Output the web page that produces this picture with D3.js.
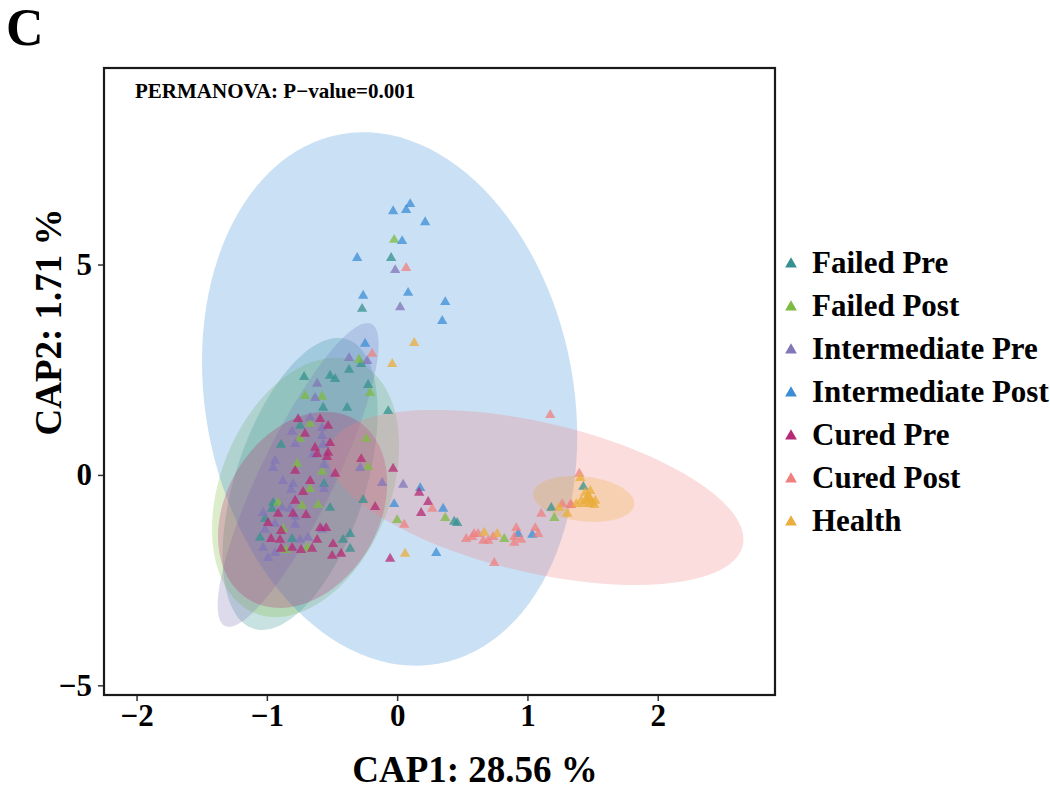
<!DOCTYPE html>
<html lang="en">
<head>
    <meta charset="UTF-8">
    <title>CAP ordination</title>
    <script src="https://cdnjs.cloudflare.com/ajax/libs/d3/7.8.5/d3.min.js"></script>
    <style>
        body {
            margin: 0;
            background-color: #ffffff;
        }
        svg text {
            font-family: "Liberation Serif", "Times New Roman", serif;
            font-weight: bold;
            fill: #000;
        }
    </style>
</head>
<body>
    <svg width="1050" height="789"></svg>
    <script>
// groups, colours and per-group samples (CAP1, CAP2)
const groups = ["Failed Pre", "Failed Post", "Intermediate Pre", "Intermediate Post", "Cured Pre", "Cured Post", "Health"];
const groupColors = ["#35918f", "#7dbb42", "#8176b8", "#3b8ed6", "#b52a74", "#ef8080", "#e9ae3b"];

const failedPre = [
    [-0.046, 5.18], [-0.269, 3.97], [-0.276, 2.66], [-0.369, 2.52], [-0.714, 2.35], [-0.515, 2.38],
    [-0.476, 2.30], [-0.223, 2.16], [-0.568, 1.62], [-0.384, 1.62], [-0.069, 1.54], [-0.361, -1.38],
    [-0.361, -1.73], [0.438, -1.09], [0.461, -1.12], [1.183, -0.76], [1.429, -0.26], [-0.960, -0.78],
    [-1.014, -1.02], [-1.052, -1.47], [-0.415, -1.52], [-0.806, -1.50], [-0.891, 0.74], [-0.745, 1.19],
    [-0.952, -0.64], [-0.561, -0.19], [-0.261, -0.57], [-0.515, -0.76]
];
const failedPost = [
    [-0.023, 5.61], [-0.292, 2.76], [-0.707, 1.90], [-0.207, 1.97], [0.000, -1.05], [0.369, -1.00],
    [0.822, -1.50], [1.206, -1.00], [-0.668, 1.24], [-0.745, 0.88], [-0.238, 0.88], [-0.223, 0.21],
    [-0.768, 0.29], [-0.576, 0.10], [-0.668, -0.31], [-0.914, -0.64], [-0.607, -0.69], [-0.730, -0.71],
    [-0.876, -1.26], [-0.691, -1.71], [-0.853, -1.76], [-0.576, 1.88]
];
const intermediatePre = [
    [-0.015, 4.89], [0.023, 4.01], [-0.369, 2.80], [-0.230, 2.73], [-0.614, 2.19], [-0.630, 1.85],
    [-0.668, 1.38], [-0.576, 1.14], [-0.806, 1.05], [-0.576, 0.95], [-0.783, 0.76], [-0.568, 0.74],
    [-0.645, 0.50], [-0.284, 0.19], [-0.561, 0.26], [-0.937, 0.36], [-0.876, -0.12], [-0.561, -0.31],
    [-0.814, -0.33], [-0.799, -0.19], [-0.115, -0.17], [0.046, -0.21], [-1.029, -0.88], [-0.883, -0.76],
    [-0.822, -0.78], [-0.937, -1.14], [-1.014, -1.28], [-0.684, -1.47], [-0.745, -1.52], [-0.937, -1.83],
    [-1.029, -1.71], [-0.783, -1.16], [-0.991, -1.95], [-0.783, -0.97], [-0.576, -1.28], [-0.952, 0.19]
];
const intermediatePost = [
    [-0.031, 6.29], [0.069, 6.32], [0.100, 6.46], [0.215, 6.03], [0.038, 5.58], [-0.307, 5.18],
    [-0.261, 4.28], [0.084, 4.35], [0.369, 4.13], [0.346, 3.68], [-0.246, 3.14], [0.177, -0.29],
    [0.353, -0.78], [-0.023, -0.67], [0.300, -1.83], [0.929, -1.38], [1.037, -1.40]
];
const curedPre = [
    [-0.760, 1.35], [-0.591, 1.35], [-0.530, 1.19], [-0.707, 1.00], [-0.515, 0.78], [-0.630, 0.67],
    [-0.530, 0.55], [-0.614, 0.52], [-0.538, 0.45], [-0.276, 0.40], [-0.031, 0.17], [-0.783, 0.12],
    [-0.476, 0.05], [-0.668, -0.12], [-0.722, -0.38], [-0.783, -0.59], [-0.169, -0.74], [-0.699, -0.93],
    [-0.799, -0.90], [-0.914, -0.90], [-0.991, -1.12], [-0.891, -1.31], [-0.591, -1.24], [-0.545, -1.24],
    [-0.614, -1.52], [-0.899, -1.52], [-0.968, -1.50], [-0.492, -1.62], [-0.891, -1.73], [-0.806, -1.71],
    [-0.737, -1.76], [-0.653, -1.73], [-0.499, -1.90], [-0.430, -1.85], [-0.054, -1.97], [0.169, -0.40],
    [0.238, -0.62], [0.184, -0.88]
];
const curedPost = [
    [0.069, 4.94], [-0.192, 2.90], [1.175, 1.45], [0.054, -1.16], [0.269, -0.78], [0.591, -1.38],
    [0.576, -1.45], [0.661, -1.54], [0.699, -1.54], [0.737, -1.45], [0.914, -1.24], [0.899, -1.45],
    [0.899, -1.59], [0.952, -1.52], [1.060, -1.24], [1.083, -1.38], [0.745, -2.07], [1.106, -0.90],
    [1.267, -0.67], [1.329, -0.69], [1.398, 0.05], [1.336, -0.69], [0.530, -1.50], [0.622, -1.38]
];
const health = [
    [0.131, 3.16], [-0.038, 2.66], [0.061, -1.85], [0.668, -1.35], [0.768, -1.38], [1.244, -0.76],
    [1.306, -0.90], [1.375, -0.67], [1.406, -0.05], [1.444, -0.40], [1.467, -0.48], [1.482, -0.55],
    [1.452, -0.59], [1.498, -0.64], [1.429, -0.67], [1.475, -0.67], [1.513, -0.69], [1.459, -0.52],
    [1.482, -0.36], [1.413, -0.59], [1.521, -0.59]
];
const groupPoints = [failedPre, failedPost, intermediatePre, intermediatePost, curedPre, curedPost, health];

// confidence ellipses per group: centre, half ranges and correlation
const ellCx  = [-0.745, -0.703, -0.760, -0.058, -0.726, 1.064, 1.432];
const ellCy  = [-0.214, -0.297, 0.000, 1.805, -0.830, -0.534, -0.570];
const ellSx  = [0.595, 0.718, 0.618, 1.440, 0.649, 1.594, 0.388];
const ellSy  = [3.47, 3.08, 3.61, 6.34, 2.33, 2.08, 0.546];
const ellRho = [0.49, 0.32, 0.86, -0.14, 0.27, -0.48, -0.2];

const xTicks = [-2, -1, 0, 1, 2];
const yTicks = [-5, 0, 5];

const svg = d3.select("svg");
const margin = {left: 104, right: 775, top: 68, bottom: 695};

const x = d3.scaleLinear().domain([-2.25, 2.90]).range([margin.left, margin.right]);
const y = d3.scaleLinear().domain([-5.23, 9.67]).range([margin.bottom, margin.top]);

svg.append("defs").append("clipPath").attr("id", "panel")
    .append("rect").attr("x", margin.left).attr("y", margin.top)
    .attr("width", margin.right - margin.left).attr("height", margin.bottom - margin.top);

const plot = svg.append("g").attr("clip-path", "url(#panel)");

// ellipses
const line = d3.line().x(d => x(d[0])).y(d => y(d[1])).curve(d3.curveLinearClosed);
groups.forEach((g, i) => {
    const pts = d3.range(120).map(k => {
        const t = k / 120 * 2 * Math.PI;
        const r = ellRho[i];
        return [ellCx[i] + ellSx[i] * Math.cos(t),
                ellCy[i] + ellSy[i] * (r * Math.cos(t) + Math.sqrt(1 - r * r) * Math.sin(t))];
    });
    plot.append("path")
        .attr("d", line(pts))
        .attr("fill", groupColors[i])
        .attr("fill-opacity", 0.27)
        .attr("stroke", "none");
});

// points
const tri = d3.symbol().type(d3.symbolTriangle).size(46);
groups.forEach((g, i) => {
    plot.selectAll(null)
        .data(groupPoints[i])
        .enter().append("path")
        .attr("d", tri)
        .attr("transform", d => `translate(${x(d[0])},${y(d[1]) + 1})`)
        .attr("fill", groupColors[i])
        .attr("fill-opacity", 0.75);
});

// panel border
svg.append("rect")
    .attr("x", margin.left).attr("y", margin.top)
    .attr("width", margin.right - margin.left).attr("height", margin.bottom - margin.top)
    .attr("fill", "none").attr("stroke", "#1a1a1a").attr("stroke-width", 2.2);

// axes
const xAxis = svg.append("g").attr("transform", `translate(0,${margin.bottom + 1})`)
    .call(d3.axisBottom(x).tickValues(xTicks).tickFormat(d3.format("d")).tickSize(5).tickPadding(3));
const yAxis = svg.append("g").attr("transform", `translate(${margin.left - 1},0)`)
    .call(d3.axisLeft(y).tickValues(yTicks).tickFormat(d3.format("d")).tickSize(5).tickPadding(6));
[xAxis, yAxis].forEach(a => {
    a.select(".domain").remove();
    a.selectAll(".tick line").attr("stroke", "#333").attr("stroke-width", 1.5);
    a.selectAll(".tick text")
        .attr("fill", "#000")
        .style("font-family", '"Liberation Serif", serif')
        .style("font-weight", "bold")
        .style("font-size", "31px");
});

// titles
svg.append("text").attr("x", 6).attr("y", 45)
    .style("font-size", "52px").text("C");

svg.append("text").attr("x", 135).attr("y", 98)
    .style("font-size", "21px").text("PERMANOVA: P\u2212value=0.001");

svg.append("text").attr("x", 475).attr("y", 782)
    .attr("text-anchor", "middle")
    .style("font-size", "37px").text("CAP1: 28.56 %");

svg.append("text")
    .attr("transform", "translate(61,322) rotate(-90)")
    .attr("text-anchor", "middle")
    .style("font-size", "37px").text("CAP2: 1.71 %");

// legend
const legend = svg.append("g");
groups.forEach((g, i) => {
    const yy = 263 + i * 43;
    legend.append("path")
        .attr("d", d3.symbol().type(d3.symbolTriangle).size(60)())
        .attr("transform", `translate(791,${yy + 1})`)
        .attr("fill", groupColors[i]);
    legend.append("text")
        .attr("x", 812).attr("y", yy + 10)
        .style("font-size", "31px")
        .text(g);
});
    </script>
</body>
</html>
